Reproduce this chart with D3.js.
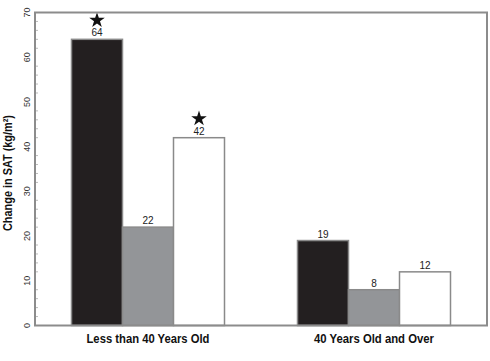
<!DOCTYPE html>
<html>
<head>
<meta charset="utf-8">
<script src="https://cdn.jsdelivr.net/npm/d3@7"></script>
<style>
  body { margin: 0; background: #fff; }
  text { font-family: "Liberation Sans Narrow", "Arial Narrow", "Liberation Sans", Arial, sans-serif; }
</style>
</head>
<body>
<svg id="chart" width="490" height="361"></svg>
<script>
// data
const groups = ["Less than 40 Years Old", "40 Years Old and Over"];
const seriesKeys = ["a", "b", "c"];
const values = [
    [64, 22, 42],
    [19, 8, 12]
];
const starred = [
    [true, false, true],
    [false, false, false]
];
const yTicks = [0, 10, 20, 30, 40, 50, 60, 70];

const fills = ["#231f20", "#939598", "#ffffff"];

const width = 490, height = 361;
const margin = { top: 12.5, right: 3, bottom: 35.5, left: 35 };
const innerW = width - margin.left - margin.right;
const innerH = height - margin.top - margin.bottom;

const svg = d3.select("#chart");
const g = svg.append("g").attr("transform", `translate(${margin.left},${margin.top})`);

const x0 = d3.scaleBand().domain(groups).range([0, innerW]).paddingInner(0.323).paddingOuter(0.1615);
const x1 = d3.scaleBand().domain(seriesKeys).range([0, x0.bandwidth()]);
const y = d3.scaleLinear().domain([0, 70]).range([innerH, 0]);

// minor ticks (inside, light)
const minor = d3.range(0, 70, 2).filter(v => v % 10 != 0);
g.selectAll(".minor")
    .data(minor)
    .join("line")
    .attr("x1", 1).attr("x2", 3)
    .attr("y1", d => y(d)).attr("y2", d => y(d))
    .attr("stroke", "#bbb").attr("stroke-width", 1);

// bars
const grp = g.selectAll(".grp")
    .data(groups)
    .join("g")
    .attr("transform", d => `translate(${x0(d)},0)`);

grp.each(function (gname, gi) {
    const sel = d3.select(this);
    const rows = seriesKeys.map((k, i) => ({ k: k, i: i, v: values[gi][i], star: starred[gi][i] }));

    sel.selectAll("rect")
        .data(rows)
        .join("rect")
        .attr("x", d => x1(d.k))
        .attr("y", d => y(d.v))
        .attr("width", x1.bandwidth())
        .attr("height", d => innerH - y(d.v))
        .attr("fill", d => fills[d.i])
        .attr("stroke", "#8a8a8a")
        .attr("stroke-width", 1.5);

    sel.selectAll(".val")
        .data(rows)
        .join("text")
        .attr("class", "val")
        .attr("x", d => x1(d.k) + x1.bandwidth() / 2)
        .attr("y", d => y(d.v) - 3)
        .attr("text-anchor", "middle")
        .attr("font-size", 10)
        .attr("fill", "#222")
        .text(d => d.v);

    sel.selectAll(".star")
        .data(rows.filter(d => d.star))
        .join("path")
        .attr("class", "star")
        .attr("d", d3.symbol(d3.symbolStar, 75))
        .attr("transform", d => `translate(${x1(d.k) + x1.bandwidth() / 2},${y(d.v) - 19})`)
        .attr("fill", "#111");
});

// frame
g.append("rect")
    .attr("x", 0).attr("y", 0)
    .attr("width", innerW).attr("height", innerH)
    .attr("fill", "none")
    .attr("stroke", "#8c8c8c")
    .attr("stroke-width", 2);

// y tick labels (rotated)
g.selectAll(".ytick")
    .data(yTicks)
    .join("text")
    .attr("class", "ytick")
    .attr("transform", d => `translate(-5,${y(d)}) rotate(-90)`)
    .attr("text-anchor", "middle")
    .attr("font-size", 9)
    .attr("fill", "#333")
    .text(d => d);

// y axis title
svg.append("text")
    .attr("transform", `translate(12,${margin.top + innerH / 2 + 4}) rotate(-90)`)
    .attr("text-anchor", "middle")
    .attr("font-size", 12)
    .attr("font-weight", "bold")
    .attr("textLength", 116)
    .attr("lengthAdjust", "spacingAndGlyphs")
    .attr("fill", "#111")
    .text("Change in SAT (kg/m²)");

// group labels
g.selectAll(".glabel")
    .data(groups)
    .join("text")
    .attr("class", "glabel")
    .attr("x", d => x0(d) + x0.bandwidth() / 2)
    .attr("y", innerH + 17)
    .attr("text-anchor", "middle")
    .attr("font-size", 13)
    .attr("font-weight", "bold")
    .attr("fill", "#111")
    .attr("textLength", (d, i) => i == 0 ? 123 : 120)
    .attr("lengthAdjust", "spacingAndGlyphs")
    .text(d => d);
</script>
</body>
</html>
